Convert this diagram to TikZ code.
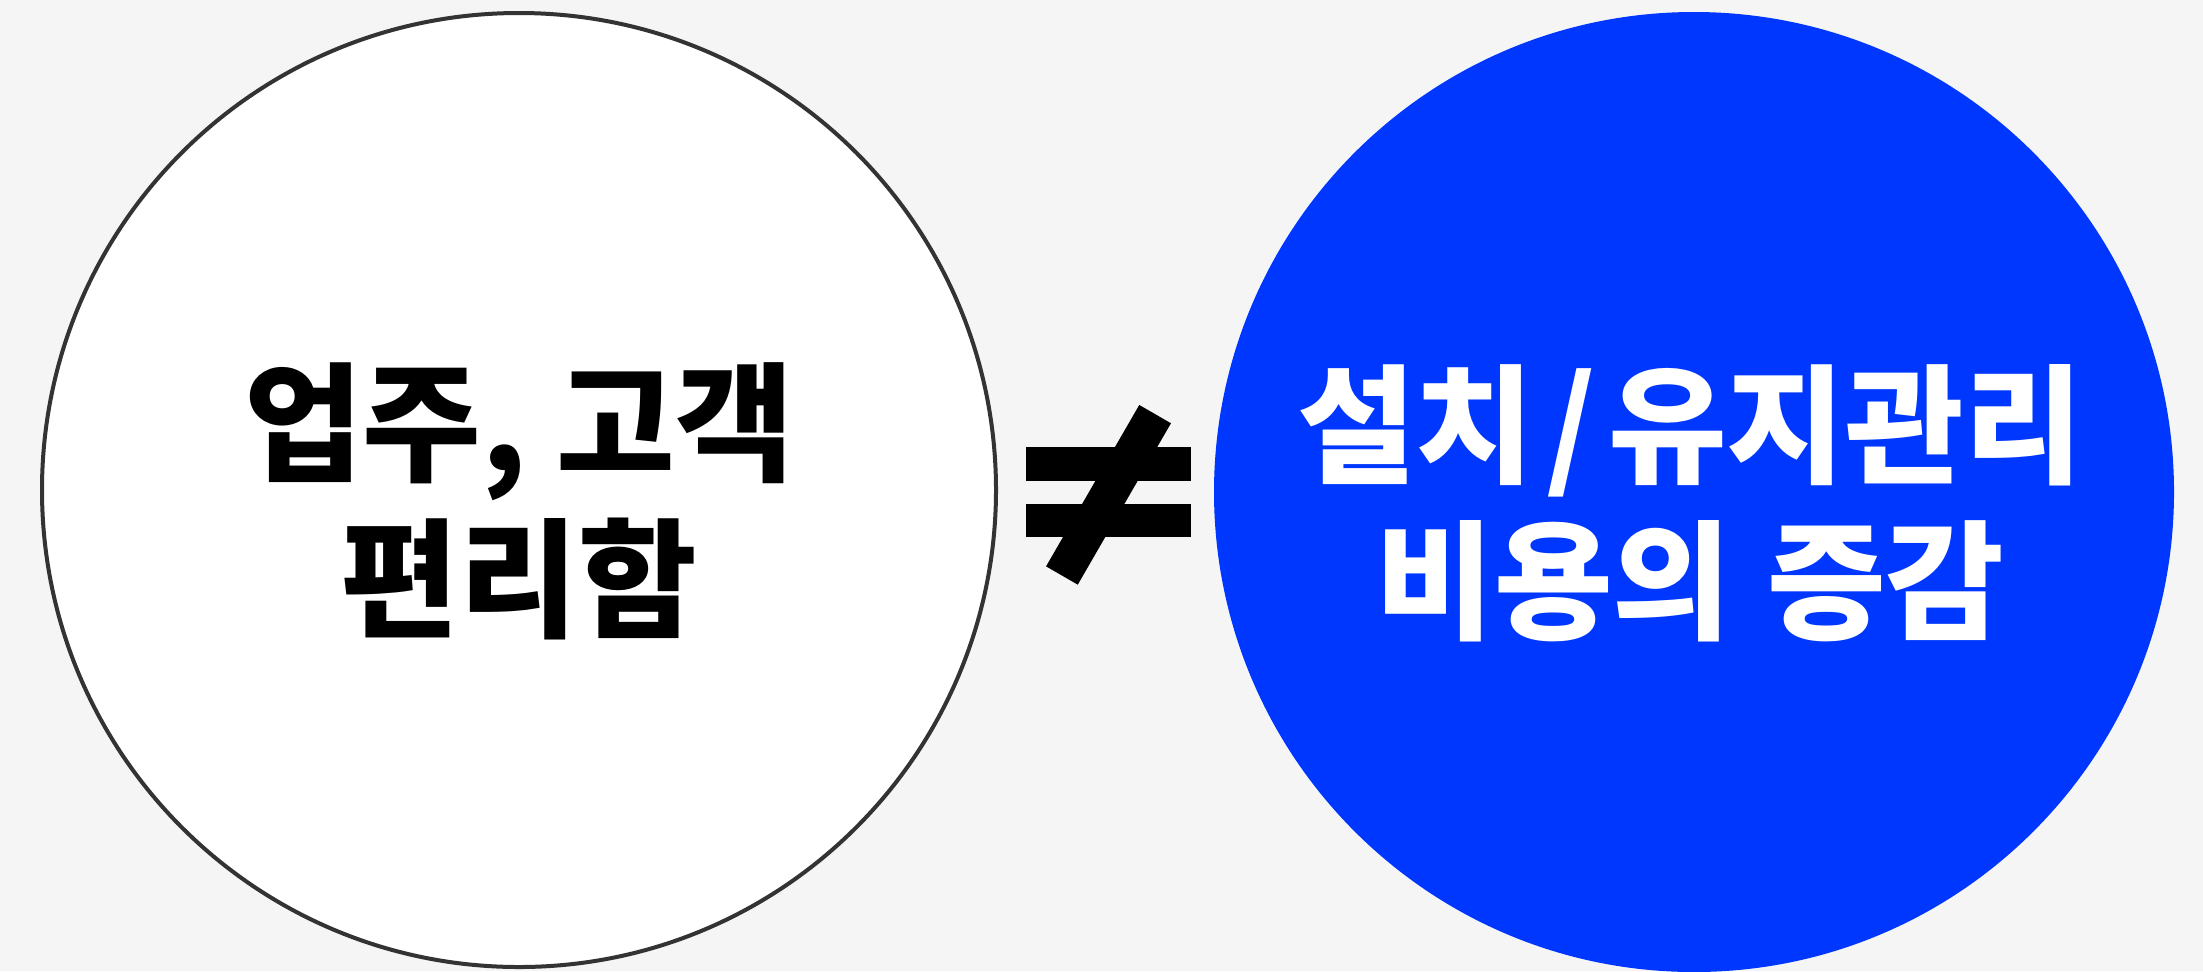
\documentclass[tikz,border=0pt]{standalone}
\usepackage{fontspec}
\newfontfamily\kofont{Noto Sans CJK KR}
\usepackage{tikz}
\definecolor{bgcol}{HTML}{F5F5F5}
\definecolor{ringcol}{HTML}{333333}
\definecolor{bluecol}{HTML}{0037FF}
\tikzstyle{pic}=[x=0.5pt,y=-0.5pt]
\tikzstyle{kotext}=[align=center, font=\kofont\bfseries\fontsize{64.5}{78}\selectfont]
\tikzstyle{plain}=[circle, inner sep=0pt, draw=ringcol, line width=2pt, fill=white, minimum size=477pt]
\tikzstyle{cost}=[circle, inner sep=0pt, fill=bluecol, minimum size=480pt]
\tikzstyle{label}=[kotext, inner sep=0pt, yshift=-5.5pt]
\tikzstyle{bar}=[fill=black]
\tikzstyle{slash}=[draw=black, line width=18.3pt]

\begin{document}
\begin{tikzpicture}[pic]
				%The background
				\fill[bgcol] (0,0) rectangle (2203,971);
				\clip (0,0) rectangle (2203,971);
				
				%The two circles
				\draw (519,490) node[plain] (conv) {};
				\draw (1694,492) node[cost] (costs) {};
				
				%The texts
				\draw (conv.center) node[label, text=black] (convtext) {업주, 고객\\편리함};
				\draw ([xshift=-2pt]costs.center) node[label, text=white] (coststext) {설치\kern6pt/\kern6pt유지관리\\비용의 \kern3pt증감};
				
				%The not-equal sign
				\coordinate (neq) at (1108.5,492);
				\fill[bar] ([shift={(-82.5,-45)}]neq) rectangle ([shift={(82.5,-11)}]neq);
				\fill[bar] ([shift={(-82.5,12)}]neq) rectangle ([shift={(82.5,45)}]neq);
				\draw[slash] ([shift={(-46.6,83.5)}]neq) -- ([shift={(46.6,-77.9)}]neq);
			\end{tikzpicture}
\end{document}
